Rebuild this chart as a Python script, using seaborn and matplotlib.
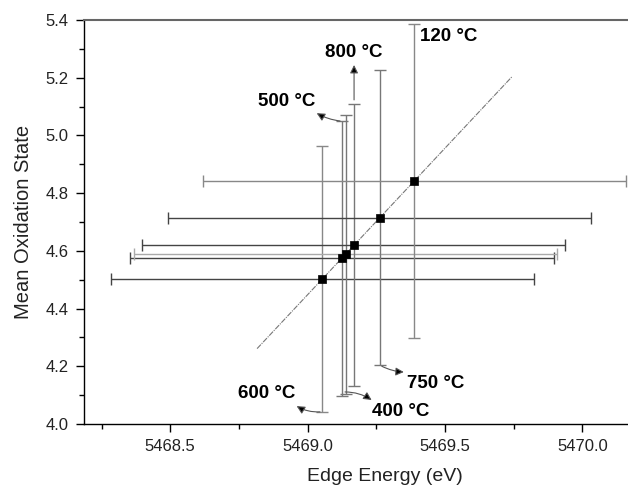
import numpy as np
import pandas as pd
import matplotlib
matplotlib.use("Agg")
import matplotlib.pyplot as plt
import seaborn as sns

# values
temps = ["600 °C", "400 °C", "500 °C", "800 °C", "750 °C", "120 °C"]
edge_energy = [5469.053, 5469.125, 5469.138, 5469.167, 5469.263, 5469.388]
oxidation = [4.502, 4.574, 4.588, 4.619, 4.715, 4.842]
energy_err = [0.77, 0.77, 0.77, 0.77, 0.77, 0.77]
oxidation_err = [0.46, 0.477, 0.484, 0.489, 0.512, 0.543]

df = pd.DataFrame({"temp": temps, "energy": edge_energy, "ox": oxidation,
                   "xerr": energy_err, "yerr": oxidation_err})

sns.set_style("ticks")
plt.rcParams["font.family"] = ["Liberation Sans", "DejaVu Sans"]

fig = plt.figure(figsize=(6.28, 4.86), dpi=100)
ax = fig.add_axes([0.1333, 0.1276, 0.959, 0.8313])

hbar_colors = ["#444444", "#444444", "#aaaaaa", "#444444", "#444444", "#888888"]
vbar_colors = ["#888888", "#777777", "#777777", "#777777", "#777777", "#888888"]
for i, row in df.iterrows():
    ax.errorbar(row.energy, row.ox, xerr=row.xerr, fmt="none",
                ecolor=hbar_colors[i], elinewidth=1.0, capsize=4, capthick=1.0)
    ax.errorbar(row.energy, row.ox, yerr=row.yerr, fmt="none",
                ecolor=vbar_colors[i], elinewidth=1.0, capsize=4, capthick=1.0)

# linear fit through the points
slope, icpt = np.polyfit(df.energy, df.ox, 1)
fit_x = np.array([5468.816, 5469.745])
ax.plot(fit_x, slope * fit_x + icpt, color="#777777", lw=0.8,
        linestyle=(0, (5, 1, 1, 1)), zorder=3)

sns.scatterplot(data=df, x="energy", y="ox", marker="s", color="black",
                s=36, edgecolor="black", linewidth=0.5, ax=ax, zorder=5)

# labels and arrows
lbl = dict(fontsize=13.5, fontweight="bold", ha="center", va="center",
           color="black")
arr = dict(arrowstyle="-|>", color="#555555", fc="black", lw=0.8,
           mutation_scale=12, shrinkA=0, shrinkB=0)
ax.text(5469.514, 5.344, "120 °C", **lbl)
ax.annotate("", xy=(5469.169, 5.244), xytext=(5469.169, 5.123),
            arrowprops=arr)
ax.text(5469.169, 5.289, "800 °C", **lbl)
ax.annotate("", xy=(5469.033, 5.077), xytext=(5469.118, 5.05),
            arrowprops=dict(arr, connectionstyle="arc3,rad=-0.1"))
ax.text(5468.923, 5.116, "500 °C", **lbl)
ax.annotate("", xy=(5468.96, 4.062), xytext=(5469.045, 4.042),
            arrowprops=dict(arr, connectionstyle="arc3,rad=-0.15"))
ax.text(5468.85, 4.104, "600 °C", **lbl)
ax.annotate("", xy=(5469.233, 4.083), xytext=(5469.136, 4.111),
            arrowprops=dict(arr, connectionstyle="arc3,rad=-0.15"))
ax.text(5469.34, 4.045, "400 °C", **lbl)
ax.annotate("", xy=(5469.35, 4.18), xytext=(5469.27, 4.2),
            arrowprops=dict(arr, connectionstyle="arc3,rad=0.1"))
ax.text(5469.467, 4.14, "750 °C", **lbl)

ax.set_xlim(5468.185, 5470.377)
ax.set_ylim(4.0, 5.4)
ax.set_xticks([5468.5, 5469.0, 5469.5, 5470.0])
ax.set_xticks(np.arange(5468.25, 5470.3, 0.25), minor=True)
ax.set_yticks(np.arange(4.0, 5.41, 0.2))
ax.set_yticks(np.arange(4.1, 5.4, 0.2), minor=True)
ax.xaxis.set_major_formatter(matplotlib.ticker.FormatStrFormatter("%.1f"))
ax.yaxis.set_major_formatter(matplotlib.ticker.FormatStrFormatter("%.1f"))
ax.tick_params(which="major", direction="out", length=6, width=1,
               labelsize=12, pad=5, color="black", labelcolor="#222222")
ax.tick_params(which="minor", direction="out", length=3.5, width=1,
               color="black")

for s in ["left", "bottom"]:
    ax.spines[s].set_color("black")
    ax.spines[s].set_linewidth(1.0)
ax.spines["top"].set_color("#666666")
ax.spines["top"].set_linewidth(1.5)
ax.spines["right"].set_visible(False)

ax.set_xlabel("Edge Energy (eV)", fontsize=14, labelpad=10, color="#222222")
ax.set_ylabel("Mean Oxidation State", fontsize=14.5, labelpad=9, color="#222222")

fig.savefig("out.png", dpi=100)
